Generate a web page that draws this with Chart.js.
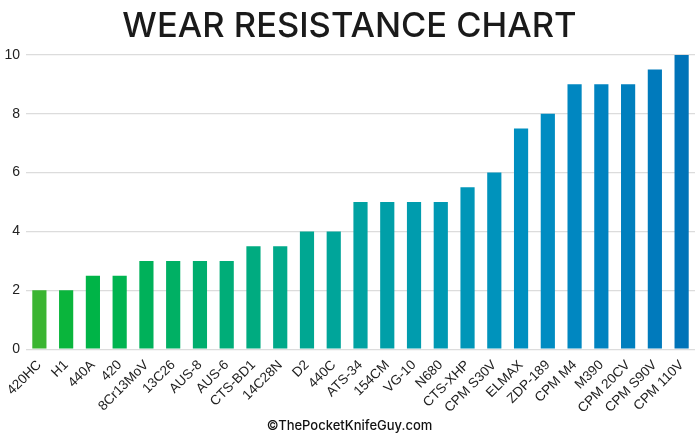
<!DOCTYPE html>
<html>
<head>
<meta charset="utf-8">
<script src="https://cdn.jsdelivr.net/npm/chart.js@4.4.0/dist/chart.umd.min.js"></script>
<style>
  html, body { margin: 0; padding: 0; background: #fff; }
  #wrap { width: 700px; height: 438px; }
</style>
</head>
<body>
<div id="wrap"><canvas id="wearChart"></canvas></div>
<script>
// Steel names and wear resistance ratings (0-10)
const steels = [
  "420HC", "H1", "440A", "420", "8Cr13MoV", "13C26", "AUS-8", "AUS-6",
  "CTS-BD1", "14C28N", "D2", "440C", "ATS-34", "154CM", "VG-10", "N680",
  "CTS-XHP", "CPM S30V", "ELMAX", "ZDP-189", "CPM M4", "M390", "CPM 20CV",
  "CPM S90V", "CPM 110V"
];
const wearRating = [
  2, 2, 2.5, 2.5, 3, 3, 3, 3,
  3.5, 3.5, 4, 4, 5, 5, 5, 5,
  5.5, 6, 7.5, 8, 9, 9, 9,
  9.5, 10
];
const yTicks = [0, 2, 4, 6, 8, 10];

// green -> blue bar colours, one per steel
const barColors = [
  "#3bb531", "#0ab53c", "#00b447", "#00b450", "#00b15a", "#00b064", "#00ae6e", "#00ad78",
  "#00ab80", "#00a98a", "#00a792", "#00a59a", "#00a2a2", "#009fa8", "#009cae", "#0099b3",
  "#0096b8", "#0093bc", "#008fc0", "#008cc2", "#0087c1", "#0083c0", "#007fbe",
  "#007abc", "#0073b8"
];

const ctx = document.getElementById("wearChart").getContext("2d");

new Chart(ctx, {
  type: "bar",
  data: {
    labels: steels,
    datasets: [
      {
        label: "Wear Resistance",
        data: wearRating,
        backgroundColor: barColors,
        borderWidth: 0,
        barPercentage: 0.53,
        categoryPercentage: 1.0,
      },
    ],
  },
  options: {
    responsive: true,
    maintainAspectRatio: false,
    animation: false,
    layout: {
      padding: { left: 4, right: 5, top: 0, bottom: 0 },
    },
    plugins: {
      legend: { display: false },
      tooltip: { enabled: false },
      title: {
        display: true,
        text: "WEAR RESISTANCE CHART",
        color: "#1a1a1a",
        font: { family: "Inter, sans-serif", size: 34.5, weight: "500" },
        padding: { top: 6, bottom: 7.5 },
      },
      subtitle: {
        display: true,
        position: "bottom",
        text: "©ThePocketKnifeGuy.com",
        color: "#111",
        font: { family: "Inter, sans-serif", size: 13, weight: "500" },
        padding: { top: 2, bottom: 4 },
      },
    },
    scales: {
      y: {
        min: 0,
        max: 10,
        afterBuildTicks: function (axis) {
          axis.ticks = yTicks.map((v) => ({ value: v }));
        },
        afterFit: function (axis) {
          axis.width = 22;
        },
        border: { display: false },
        grid: { color: "#dcdcdc", lineWidth: 1.2, drawTicks: false },
        ticks: {
          color: "#222",
          padding: 6,
          font: { family: "'Liberation Sans', Arial, sans-serif", size: 14 },
        },
      },
      x: {
        border: { display: false },
        grid: { display: false },
        ticks: {
          color: "#222",
          minRotation: 45,
          maxRotation: 45,
          autoSkip: false,
          padding: 0,
          font: { family: "'Liberation Sans', Arial, sans-serif", size: 13.5 },
        },
      },
    },
  },
});
</script>
</body>
</html>
